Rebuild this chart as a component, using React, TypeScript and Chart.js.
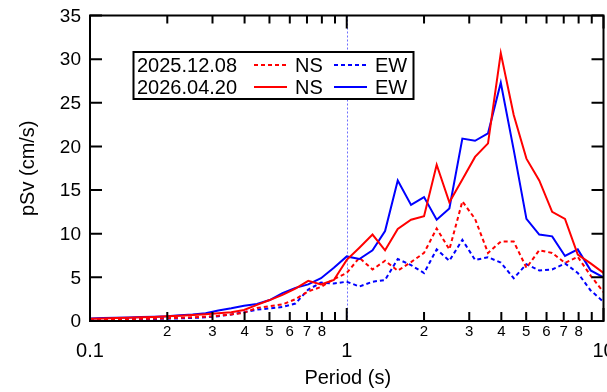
import React, { useEffect, useRef } from "react";
import { Chart, registerables } from "chart.js";

Chart.register(...registerables);

const periods = [
  0.1, 0.112, 0.126, 0.141, 0.158, 0.178, 0.2, 0.224, 0.251, 0.282,
  0.316, 0.355, 0.398, 0.447, 0.501, 0.562, 0.631, 0.708, 0.794, 0.891,
  1.0, 1.12, 1.26, 1.41, 1.58, 1.78, 2.0, 2.24, 2.51, 2.82,
  3.16, 3.55, 3.98, 4.47, 5.01, 5.62, 6.31, 7.08, 7.94, 8.91, 10.0,
];

const ns20251208 = [
  0.15, 0.17, 0.2, 0.22, 0.25, 0.28, 0.32, 0.37, 0.42, 0.5,
  0.6, 0.75, 0.95, 1.5, 1.7, 1.9, 2.5, 3.4, 3.9, 4.8,
  5.5, 7.25, 5.9, 6.9, 5.76, 6.75, 7.8, 10.6, 8.2, 13.7,
  11.7, 7.8, 9.1, 9.1, 6.1, 8.1, 7.8, 6.65, 7.35, 5.2, 3.3,
];

const ew20251208 = [
  0.12, 0.14, 0.16, 0.18, 0.2, 0.23, 0.27, 0.3, 0.35, 0.42,
  0.55, 0.75, 1.0, 1.3, 1.45, 1.6, 2.0, 3.6, 4.4, 4.3,
  4.5, 3.95, 4.5, 4.7, 7.1, 6.4, 5.5, 8.2, 6.9, 9.3,
  7.0, 7.3, 6.7, 4.9, 6.5, 5.8, 5.9, 6.6, 5.5, 3.5, 2.2,
];

const ns20260420 = [
  0.25, 0.3, 0.34, 0.38, 0.42, 0.47, 0.53, 0.6, 0.68, 0.78,
  0.88, 1.0, 1.26, 1.85, 2.4, 3.0, 3.7, 4.6, 4.2, 4.7,
  7.0, 8.4, 9.9, 8.1, 10.55, 11.6, 12.0, 17.9, 13.6, 16.2,
  18.8, 20.35, 30.7, 23.6, 18.6, 16.1, 12.5, 11.7, 7.6, 6.6, 5.5,
];

const ew20260420 = [
  0.3, 0.33, 0.36, 0.4, 0.45, 0.5, 0.55, 0.65, 0.75, 0.9,
  1.2, 1.45, 1.75, 1.95, 2.4, 3.2, 3.8, 4.2, 4.9, 6.1,
  7.4, 7.1, 8.1, 10.3, 16.1, 13.3, 14.2, 11.6, 12.9, 20.9,
  20.65, 21.5, 27.3, 19.6, 11.7, 9.9, 9.7, 7.45, 8.2, 5.8, 5.0,
];

const yTicks = [0, 5, 10, 15, 20, 25, 30, 35];
const xMajor = [0.1, 1, 10];
const xMajorLabels = ["0.1", "1", "10"];
const xMinor = [0.2, 0.3, 0.4, 0.5, 0.6, 0.7, 0.8, 0.9, 2, 3, 4, 5, 6, 7, 8, 9];
const xMinorLabels = ["2", "3", "4", "5", "6", "7", "8", "", "2", "3", "4", "5", "6", "7", "8", ""];

const legendDates = ["2025.12.08", "2026.04.20"];
const xTitle = "Period (s)";
const yTitle = "pSv (cm/s)";

const FONT = "'Liberation Sans', Arial, Helvetica, sans-serif";

const framePlugin = {
  id: "framePlugin",
  beforeDatasetsDraw(chart: any) {
    const { ctx, chartArea, scales } = chart;
    const x1 = Math.round(scales.x.getPixelForValue(1)) + 0.5;
    ctx.save();
    ctx.strokeStyle = "#6f6fff";
    ctx.lineWidth = 1;
    ctx.setLineDash([2, 2]);
    ctx.beginPath();
    ctx.moveTo(x1, chartArea.top);
    ctx.lineTo(x1, chartArea.bottom);
    ctx.stroke();
    ctx.restore();
  },
  afterDatasetsDraw(chart: any) {
    const { ctx, chartArea, scales } = chart;
    const { left, right, top, bottom } = chartArea;
    const xs = scales.x;
    const ys = scales.y;
    ctx.save();
    ctx.strokeStyle = "#000";
    ctx.fillStyle = "#000";
    ctx.lineWidth = 2;
    ctx.setLineDash([]);
    ctx.strokeRect(left, top, right - left, bottom - top);

    ctx.lineWidth = 2;
    ctx.beginPath();
    yTicks.forEach((v) => {
      const y = ys.getPixelForValue(v);
      ctx.moveTo(left, y);
      ctx.lineTo(left + 12, y);
      ctx.moveTo(right, y);
      ctx.lineTo(right - 12, y);
    });
    xMajor.forEach((v) => {
      const x = xs.getPixelForValue(v);
      ctx.moveTo(x, bottom);
      ctx.lineTo(x, bottom - 13);
      ctx.moveTo(x, top);
      ctx.lineTo(x, top + 13);
    });
    xMinor.forEach((v) => {
      const x = xs.getPixelForValue(v);
      ctx.moveTo(x, bottom);
      ctx.lineTo(x, bottom - 9);
      ctx.moveTo(x, top);
      ctx.lineTo(x, top + 8);
    });
    ctx.stroke();

    ctx.font = `19px ${FONT}`;
    ctx.textAlign = "right";
    ctx.textBaseline = "middle";
    yTicks.forEach((v) => {
      ctx.fillText(String(v), left - 9, ys.getPixelForValue(v) + 1);
    });

    ctx.font = `15px ${FONT}`;
    ctx.textAlign = "center";
    xMinor.forEach((v, i) => {
      if (xMinorLabels[i]) ctx.fillText(xMinorLabels[i], xs.getPixelForValue(v), bottom + 11);
    });
    ctx.font = `20px ${FONT}`;
    xMajor.forEach((v, i) => {
      ctx.fillText(xMajorLabels[i], xs.getPixelForValue(v), bottom + 30);
    });

    ctx.font = `20px ${FONT}`;
    ctx.fillText(xTitle, (left + right) / 2 + 1, bottom + 57);
    ctx.save();
    ctx.translate(28, (top + bottom) / 2);
    ctx.rotate(-Math.PI / 2);
    ctx.fillText(yTitle, 0, 0);
    ctx.restore();

    const lx = 133.5, ly = 52, lw = 280, lh = 47;
    ctx.fillStyle = "#fff";
    ctx.fillRect(lx, ly, lw, lh);
    ctx.strokeStyle = "#000";
    ctx.lineWidth = 2;
    ctx.strokeRect(lx, ly, lw, lh);
    ctx.font = `20px ${FONT}`;
    ctx.textAlign = "left";
    ctx.textBaseline = "middle";
    const rows = [65, 87];
    rows.forEach((ry, i) => {
      ctx.fillStyle = "#000";
      ctx.fillText(legendDates[i], 137, ry + 1);
      ctx.fillText("NS", 295, ry + 1);
      ctx.fillText("EW", 375, ry + 1);
      ctx.lineWidth = 2;
      ctx.setLineDash(i === 0 ? [4, 3] : []);
      ctx.strokeStyle = "#ff0000";
      ctx.beginPath();
      ctx.moveTo(254, ry);
      ctx.lineTo(287, ry);
      ctx.stroke();
      ctx.strokeStyle = "#0000ff";
      ctx.beginPath();
      ctx.moveTo(334, ry);
      ctx.lineTo(367, ry);
      ctx.stroke();
    });
    ctx.restore();
  },
};

export default function App() {
  const ref = useRef<HTMLCanvasElement | null>(null);
  useEffect(() => {
    document.body.style.margin = "0";
    const canvas = ref.current;
    if (!canvas) return;
    const mk = (arr: number[]) => periods.map((p, i) => ({ x: p, y: arr[i] }));
    const chart = new Chart(canvas, {
      type: "line",
      data: {
        datasets: [
          { label: "2026.04.20 NS", data: mk(ns20260420), borderColor: "#ff0000", borderWidth: 2, pointRadius: 0, tension: 0, fill: false },
          { label: "2026.04.20 EW", data: mk(ew20260420), borderColor: "#0000ff", borderWidth: 2, pointRadius: 0, tension: 0, fill: false },
          { label: "2025.12.08 NS", data: mk(ns20251208), borderColor: "#ff0000", borderWidth: 2, borderDash: [4, 3], pointRadius: 0, tension: 0, fill: false },
          { label: "2025.12.08 EW", data: mk(ew20251208), borderColor: "#0000ff", borderWidth: 2, borderDash: [4, 3], pointRadius: 0, tension: 0, fill: false },
        ],
      },
      options: {
        responsive: false,
        animation: false,
        devicePixelRatio: 1,
        layout: { padding: { left: 0, right: 3.5, top: 15.5, bottom: 0 } },
        plugins: { legend: { display: false }, tooltip: { enabled: false }, title: { display: false } },
        events: [],
        scales: {
          x: {
            type: "logarithmic",
            min: 0.1,
            max: 10,
            ticks: { display: false },
            grid: { display: false },
            border: { display: false },
            afterFit: (s: any) => { s.height = 71; },
          },
          y: {
            type: "linear",
            min: 0,
            max: 35,
            ticks: { display: false },
            grid: { display: false },
            border: { display: false },
            afterFit: (s: any) => { s.width = 90; },
          },
        },
      } as any,
      plugins: [framePlugin],
    });
    return () => chart.destroy();
  }, []);
  return (
    <div style={{ width: 607, height: 392, background: "#fff" }}>
      <canvas ref={ref} width={607} height={392} style={{ display: "block" }} />
    </div>
  );
}
